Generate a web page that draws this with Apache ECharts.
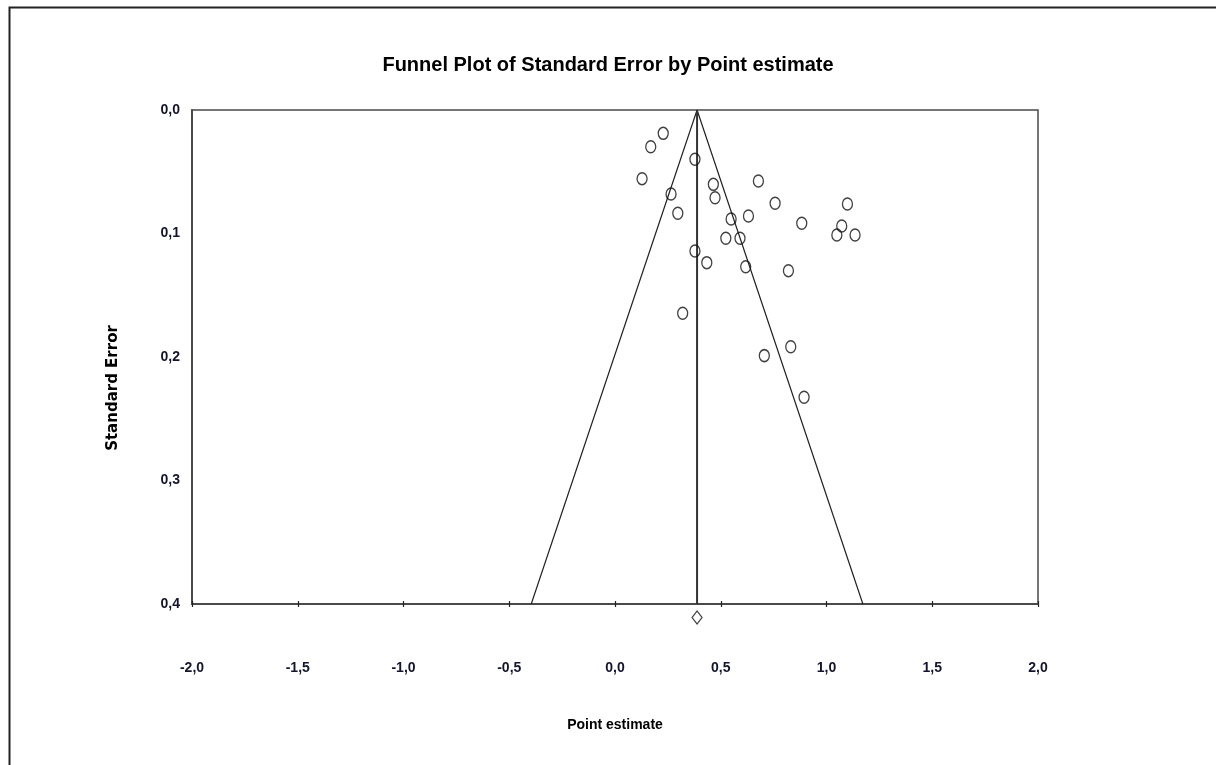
<!DOCTYPE html>
<html><head><meta charset="utf-8">
<script src="https://cdn.jsdelivr.net/npm/echarts@6/dist/echarts.min.js"></script>
<style>html,body{margin:0;padding:0;background:#fff}#c{width:1216px;height:765px}</style>
</head><body><div id="c"></div>
<script>
const pointEstimate = [0.228,0.169,0.378,0.128,0.465,0.678,0.265,0.473,0.757,1.099,0.297,0.549,0.631,0.883,1.072,1.049,1.135,0.524,0.591,0.378,0.434,0.618,0.820,0.320,0.831,0.706,0.894];
const standardError = [0.0189,0.0297,0.0399,0.0556,0.0602,0.0575,0.0680,0.0710,0.0755,0.0761,0.0836,0.0883,0.0858,0.0917,0.0939,0.1012,0.1012,0.1039,0.1039,0.1142,0.1236,0.1269,0.1301,0.1646,0.1917,0.1989,0.2326];
const summaryEstimate = 0.388;
const summarySE = 0.411;
const funnelMaxSE = 0.4;
const xTicks = [-2,-1.5,-1,-0.5,0,0.5,1,1.5,2];
const yTicks = [0,0.1,0.2,0.3,0.4];

const fmt = v => v.toFixed(1).replace('.', ',');
const narrow = "'Liberation Sans Narrow','Arial Narrow','Liberation Sans',Arial,sans-serif";
const labelColor = '#14142e';
const halfW = 1.96 * funnelMaxSE;

const chart = echarts.init(document.getElementById('c'), null, {renderer:'canvas'});
chart.setOption({
  animation:false,
  backgroundColor:'#fff',
  title:{text:'Funnel Plot of Standard Error by Point estimate', left:'center', top:50,
    textStyle:{fontFamily:narrow, fontWeight:'bold', fontSize:20, color:'#000'}},
  grid:{left:192, right:178, top:110, bottom:161, show:true, borderColor:'#4a4a4a', borderWidth:1.5},
  xAxis:[{type:'value', min:-2, max:2, interval:0.5, name:'Point estimate', nameLocation:'middle', nameGap:114,
    nameTextStyle:{fontFamily:narrow, fontWeight:'bold', fontSize:14, color:'#000'},
    axisLine:{onZero:false, lineStyle:{color:'#4a4a4a', width:2}},
    axisTick:{show:true, length:3, lineStyle:{color:'#222', width:1.2}},
    splitLine:{show:false},
    axisLabel:{margin:57, formatter:fmt, fontFamily:narrow, fontWeight:'bold', fontSize:14, color:labelColor}},
   {type:'value', min:-2, max:2, interval:0.5, position:'bottom', show:true,
    axisLine:{show:false, onZero:false}, axisLabel:{show:false}, splitLine:{show:false},
    axisTick:{show:true, inside:true, length:3, lineStyle:{color:'#222', width:1.2}}}],
  yAxis:{type:'value', inverse:true, min:0, max:0.4, interval:0.1,
    axisLine:{show:true, onZero:false, lineStyle:{color:'#4a4a4a', width:2}},
    axisTick:{show:false}, splitLine:{show:false},
    axisLabel:{margin:12, formatter:fmt, fontFamily:narrow, fontWeight:'bold', fontSize:14, color:labelColor}},
  graphic:[
    {type:'rect', shape:{x:9.5, y:7.5, width:1300, height:900}, style:{fill:null, stroke:'#222', lineWidth:2}, silent:true},
    {type:'text', x:113, y:388, rotation:Math.PI/2, silent:true,
      style:{text:'Standard Error', fontFamily:'DejaVu Sans', fontWeight:'bold', fontSize:15, fill:'#000', textAlign:'center', textVerticalAlign:'middle'}}
  ],
  series:[
    {type:'line', data:[[summaryEstimate-halfW, funnelMaxSE],[summaryEstimate,0],[summaryEstimate+halfW, funnelMaxSE]],
      symbol:'none', lineStyle:{color:'#222', width:1.2}, z:1},
    {type:'line', data:[[summaryEstimate,0],[summaryEstimate,funnelMaxSE]],
      symbol:'none', lineStyle:{color:'#333', width:2}, z:1},
    {type:'scatter', data:pointEstimate.map((x,i)=>[x, standardError[i]]), symbol:'circle', symbolSize:[10,12],
      itemStyle:{color:'rgba(255,255,255,0)', borderColor:'#111', borderWidth:1.4}, z:3},
    {type:'scatter', data:[[summaryEstimate, summarySE]], symbol:'diamond', symbolSize:[10,13], clip:false,
      itemStyle:{color:'#fff', borderColor:'#111', borderWidth:1.2}, z:3}
  ]
});
</script></body></html>
